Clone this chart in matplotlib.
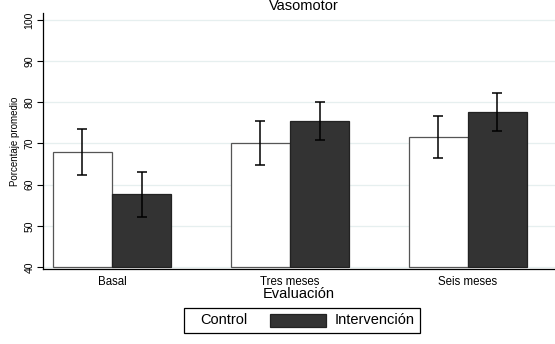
import matplotlib
matplotlib.use("Agg")
import matplotlib.pyplot as plt
import numpy as np
from matplotlib.patches import Rectangle

categories = ["Basal", "Tres meses", "Seis meses"]
control = [67.9, 70.1, 71.6]
control_lo = [62.3, 64.8, 66.5]
control_hi = [73.5, 75.5, 76.7]
interv = [57.7, 75.5, 77.6]
interv_lo = [52.2, 70.9, 73.0]
interv_hi = [63.1, 80.1, 82.3]
yticks = [40, 50, 60, 70, 80, 90, 100]

plt.rcParams['font.family'] = ['Liberation Sans', 'DejaVu Sans']

W, H = 555, 344
fig = plt.figure(figsize=(W / 100, H / 100), dpi=100)
ax = fig.add_axes([43 / W, 1 - 269 / H, 512 / W, 256 / H])


def fx(px):
    return px / W


def fy(py):
    return 1 - py / H


x = np.arange(len(categories))
w = 1 / 3
base = 40

c = np.array(control)
i = np.array(interv)
ax.bar(x - w / 2, c - base, w, bottom=base, color="white", edgecolor="#555555", linewidth=0.9, zorder=2)
ax.bar(x + w / 2, i - base, w, bottom=base, color="#333333", edgecolor="#222222", linewidth=0.9, zorder=2)

err_c = [c - np.array(control_lo), np.array(control_hi) - c]
err_i = [i - np.array(interv_lo), np.array(interv_hi) - i]
ax.errorbar(x - w / 2, c, yerr=err_c, fmt="none", ecolor="black", elinewidth=1.1, capsize=3.5, capthick=1.1, zorder=3)
ax.errorbar(x + w / 2, i, yerr=err_i, fmt="none", ecolor="black", elinewidth=1.1, capsize=3.5, capthick=1.1, zorder=3)

ax.set_xlim(-0.388, 2.49)
ax.set_ylim(39.5, 101.7)
ax.set_yticks(yticks)
ax.set_yticklabels([str(t) for t in yticks], rotation=90, va="center", fontsize=7.5)
ax.yaxis.grid(True, color="#e6efef", linewidth=0.9, zorder=0)
ax.set_axisbelow(True)
ax.set_xticks(x)
ax.set_xticklabels(categories, fontsize=8.3)
ax.tick_params(axis="x", length=0, pad=5)
ax.tick_params(axis="y", length=4, width=0.8, pad=2)
for s in ["top", "right"]:
    ax.spines[s].set_visible(False)
for s in ["left", "bottom"]:
    ax.spines[s].set_linewidth(0.9)

ax.set_ylabel("Porcentaje promedio", fontsize=7, labelpad=3)
ax.set_xlabel("Evaluación", fontsize=10.5, labelpad=-1)

fig.text(fx(304), fy(10.5), "Vasomotor", ha="center", va="baseline", fontsize=10.5)

# legend drawn by hand (Stata style: invisible key for Control)
fig.patches.append(Rectangle((fx(184), fy(333)), fx(420) - fx(184), fy(308) - fy(333),
                             transform=fig.transFigure, facecolor="white",
                             edgecolor="black", linewidth=0.9))
fig.patches.append(Rectangle((fx(270), fy(327)), fx(326) - fx(270), fy(314) - fy(327),
                             transform=fig.transFigure, facecolor="#333333",
                             edgecolor="#222222", linewidth=0.9))
fig.text(fx(200), fy(320.5), "Control", ha="left", va="center", fontsize=10.5)
fig.text(fx(335), fy(320.5), "Intervención", ha="left", va="center", fontsize=10.5)

fig.savefig("out.png", dpi=100)
